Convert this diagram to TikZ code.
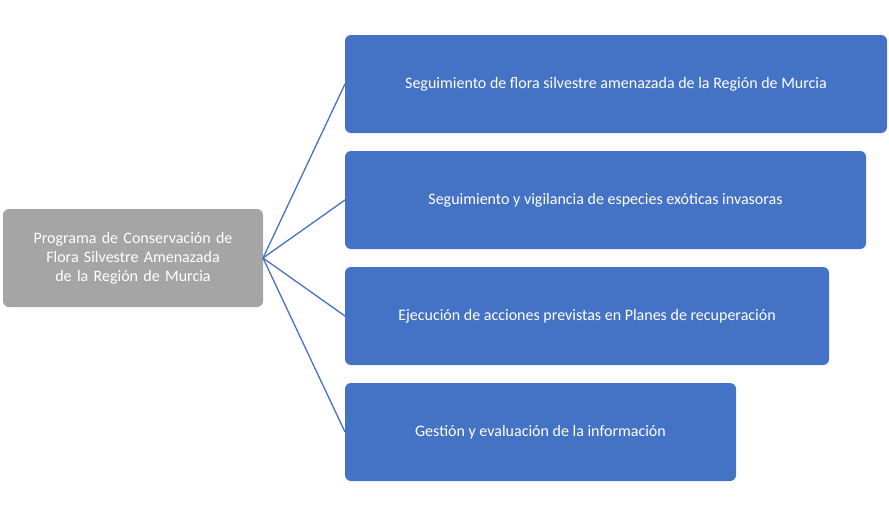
\documentclass[tikz,border=0pt]{standalone}
\usepackage{fontspec}
\setmainfont{Carlito}
\definecolor{bl}{HTML}{4472C4}
\definecolor{gr}{HTML}{A5A5A5}
\begin{document}
\begin{tikzpicture}[x=1pt,y=-1pt,
 box/.style={rounded corners=6pt,text=white,font=\fontsize{16}{19}\selectfont,align=center},
 con/.style={bl,line width=1.3pt}]
\useasboundingbox (0,0) rectangle (889,517);
\fill[gr,rounded corners=6pt] (3,209) rectangle (263,307);
\node[box,text width=250pt] (root) at (133,258) {Programa de Conservación de Flora Silvestre Amenazada de la Región de Murcia};
\coordinate (r) at (263,258);
\foreach \i/\xr/\ya/\t in {1/887/35/{Seguimiento de flora silvestre amenazada de la Región de Murcia},2/866/151/{Seguimiento y vigilancia de especies exóticas invasoras},3/829/267/{Ejecución de acciones previstas en Planes de recuperación},4/736/383/{Gestión y evaluación de la información}}{
 \fill[bl,rounded corners=6pt] (345,\ya) rectangle (\xr,\ya+98);
 \node[box] (b\i) at ({(345+\xr)/2},\ya+49) {\t};
 \coordinate (l\i) at (345,\ya+49);
 \draw[con] (r) -- (l\i);
}
\end{tikzpicture}
\end{document}
